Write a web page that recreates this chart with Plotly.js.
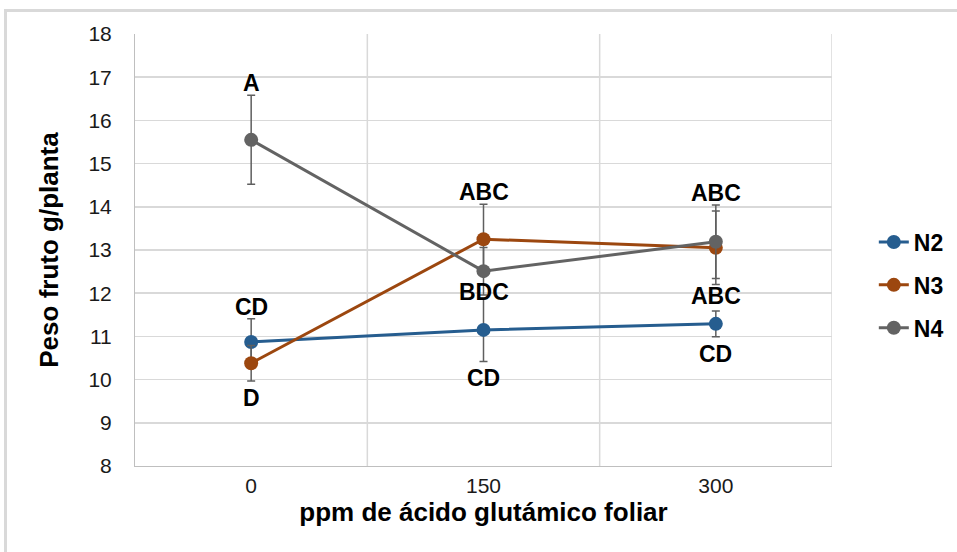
<!DOCTYPE html>
<html>
<head>
<meta charset="utf-8">
<script src="https://cdn.plot.ly/plotly-3.0.1.min.js"></script>
<style>
html,body{margin:0;padding:0;background:#fff;overflow:hidden;}
#frame{position:absolute;left:4px;top:9px;width:1000px;height:600px;border:3px solid #d9d9d9;box-sizing:border-box;}
#chart{position:absolute;left:0;top:0;width:957px;height:552px;}
</style>
</head>
<body>
<div id="frame"></div>
<div id="chart"></div>
<script>
// Data
const categories = ["0", "150", "300"];
const seriesNames = ["N2", "N3", "N4"];
const n2 = [10.87, 11.15, 11.29];
const n3 = [10.38, 13.25, 13.05];
const n4 = [15.55, 12.51, 13.19];
const n2Err = [0.54, 0.73, 0.30];
const n3Err = [0.41, 0.81, 0.85];
const n4Err = [1.03, 0.55, 0.85];
// Letters of significance: category index, series it belongs to, side, text
const labelCat = [0, 0, 0, 1, 1, 1, 2, 2, 2];
const labelSeries = ["N4", "N2", "N3", "N3", "N4", "N2", "N4", "N4", "N2"];
const labelSide = ["above", "above", "below", "above", "point", "below", "above", "below", "below"];
const labelText = ["A", "CD", "D", "ABC", "BDC", "CD", "ABC", "ABC", "CD"];

const FONT = "Liberation Sans, Arial, sans-serif";
const colors = {N2: "#265d8f", N3: "#9c470f", N4: "#636363"};
const values = {N2: n2, N3: n3, N4: n4};
const errs = {N2: n2Err, N3: n3Err, N4: n4Err};

const traces = seriesNames.map(name => ({
  type: "scatter",
  mode: "lines+markers",
  name: name,
  legendgroup: name,
  x: [0, 1, 2],
  y: values[name],
  line: {color: colors[name], width: 3},
  marker: {color: colors[name], size: 14},
  error_y: {type: "data", array: errs[name], visible: true, color: "#5f5f5f", thickness: 1.5, width: 4},
  cliponaxis: false
}));

const annotations = labelText.map((t, i) => {
  const s = labelSeries[i], c = labelCat[i];
  const v = values[s][c], e = errs[s][c];
  let y, anchor, shift;
  if (labelSide[i] === "above") { y = v + e; anchor = "bottom"; shift = -3; }
  else if (labelSide[i] === "below") { y = v - e; anchor = "top"; shift = -2; }
  else { y = v; anchor = "top"; shift = -6; }
  return {x: c, y: y, xref: "x", yref: "y", text: "<b>" + t + "</b>", showarrow: false,
    yanchor: anchor, yshift: shift, font: {family: FONT, size: 23, color: "#000"}};
});

const layout = {
  width: 957, height: 552,
  margin: {l: 135, r: 125, t: 34, b: 86, autoexpand: false},
  paper_bgcolor: "rgba(0,0,0,0)",
  plot_bgcolor: "#fff",
  font: {family: FONT, color: "#000"},
  showlegend: true,
  legend: {x: 1.06, y: 0.419, xanchor: "left", yanchor: "middle",
    font: {family: FONT, size: 23, weight: "bold", color: "#000"},
    tracegroupgap: 10},
  xaxis: {
    range: [-0.5, 2.5],
    tickmode: "array", tickvals: [0, 1, 2], ticktext: categories,
    showgrid: false, zeroline: false,
    showline: true, linecolor: "#bfbfbf", linewidth: 1,
    ticks: "outside", ticklen: 1, tickcolor: "rgba(0,0,0,0)",
    tickfont: {family: FONT, size: 21, color: "#1a1a1a"},
    title: {text: "<b>ppm de ácido glutámico foliar</b>", font: {family: FONT, size: 26, color: "#000"}, standoff: 0}
  },
  yaxis: {
    range: [8, 18], dtick: 1, tick0: 8,
    showgrid: true, gridcolor: "#d9d9d9", gridwidth: 1.5,
    zeroline: false, showline: true, linecolor: "#bfbfbf", linewidth: 1,
    ticks: "outside", ticklen: 18, tickcolor: "rgba(0,0,0,0)",
    tickfont: {family: FONT, size: 21, color: "#1a1a1a"},
    title: {text: "<b>Peso fruto g/planta</b>", font: {family: FONT, size: 26, color: "#000"}, standoff: 22}
  },
  shapes: [0.5, 1.5, 2.5].map(k => ({type: "line", xref: "x", yref: "paper", x0: k, x1: k, y0: 0, y1: 1,
    line: {color: "#d9d9d9", width: 1.5}, layer: "below"})),
  annotations: annotations
};

Plotly.newPlot("chart", traces, layout, {displayModeBar: false, staticPlot: true});
</script>
</body>
</html>
